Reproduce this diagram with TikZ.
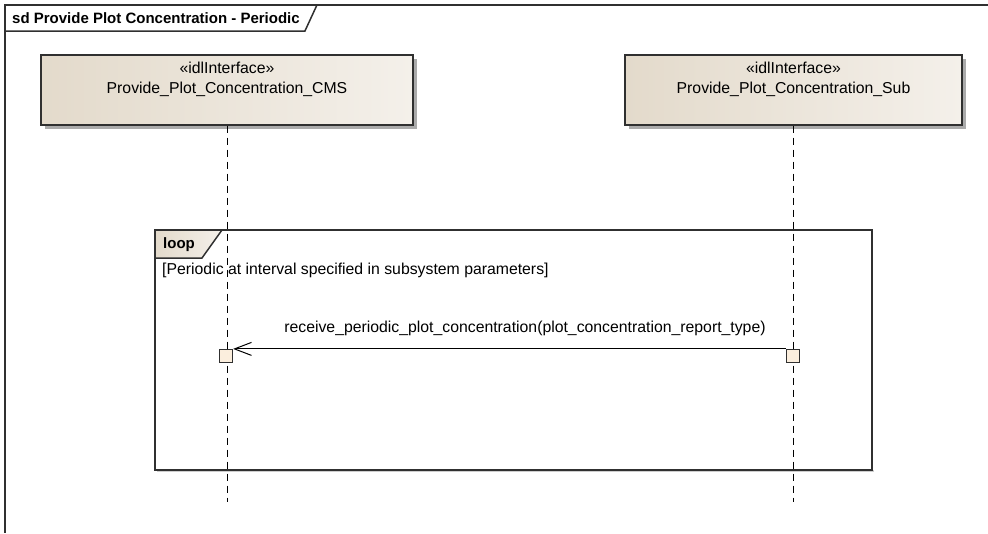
\documentclass[tikz,border=0pt]{standalone}
\usepackage{fontspec}
\setmainfont{Liberation Sans}
\usetikzlibrary{arrows.meta,calc}
\definecolor{framecol}{HTML}{303030}
\definecolor{boxleft}{HTML}{E3DACB}
\definecolor{boxright}{HTML}{F4F0EA}
\definecolor{actfill}{HTML}{FBEEDD}
\definecolor{shadowcol}{HTML}{ABABAB}
\tikzset{
  lifebox/.style={draw=framecol, line width=1.3pt, left color=boxleft, right color=boxright, inner sep=0pt},
  boxshadow/.style={fill=shadowcol, draw=none},
  lifeline/.style={draw=black, line width=1pt, dash pattern=on 7pt off 5pt},
  actbox/.style={draw=framecol, line width=1.2pt, fill=actfill, minimum width=13pt, minimum height=13pt, inner sep=0pt},
  msg/.style={draw=black, line width=1pt, -{Straight Barb[length=17pt,width=13pt,line width=1pt]}},
  frameline/.style={draw=framecol, line width=1.5pt},
  txt/.style={font=\fontsize{15.8}{18}\selectfont, inner sep=0pt},
  btxt/.style={font=\fontsize{15}{18}\selectfont\bfseries, inner sep=0pt},
}
\begin{document}
\begin{tikzpicture}[x=1pt,y=-1pt]
\useasboundingbox (0,0) rectangle (988,533);
% outer frame
\node[btxt, anchor=west] (title) at (12,18) {sd Provide Plot Concentration - Periodic};
\draw[frameline] (988,5) -- (5,5) -- (5,533);
\draw[frameline] (5,31) -- ($(title.east)+(5,13)$) -- ($(title.east)+(17,-13)$);
% lifeline boxes
\fill[boxshadow] (45,59) rectangle (417,129);
\fill[boxshadow] (629,59) rectangle (966,129);
\node[lifebox, minimum width=372pt, minimum height=70pt] (cms) at (227,90) {};
\node[lifebox, minimum width=337pt, minimum height=70pt] (sub) at (793.5,90) {};
\node[txt] (cmsst) at (227,68) {«idlInterface»};
\node[txt] (cmsnm) at (227,89) {Provide\_Plot\_Concentration\_CMS};
\node[txt] (subst) at (793.5,68) {«idlInterface»};
\node[txt] (subnm) at (793.5,89) {Provide\_Plot\_Concentration\_Sub};
% lifelines
\coordinate (cmsend) at (227,502);
\coordinate (subend) at (793.5,502);
\draw[lifeline] (cms.south) -- (cmsend);
\draw[lifeline] (sub.south) -- (subend);
% loop fragment
\fill[shadowcol!60] (157,470) rectangle (874,472);
\draw[frameline] (155,230) rectangle (872,470);
\draw[frameline, left color=boxleft, right color=boxright] (155,230) -- (222,230) -- (202,258) -- (155,258) -- cycle;
\node[btxt, anchor=west] (looplbl) at (163,245) {loop};
\node[txt, anchor=west] (guard) at (162,270) {[Periodic at interval specified in subsystem parameters]};
% activations
\node[actbox] (actl) at (226,356) {};
\node[actbox] (actr) at (793,356) {};
% message
\draw[msg] (actr.north west) -- (actl.north east);
\node[txt] (msglbl) at (525,328) {receive\_periodic\_plot\_concentration(plot\_concentration\_report\_type)};
\end{tikzpicture}
\end{document}
